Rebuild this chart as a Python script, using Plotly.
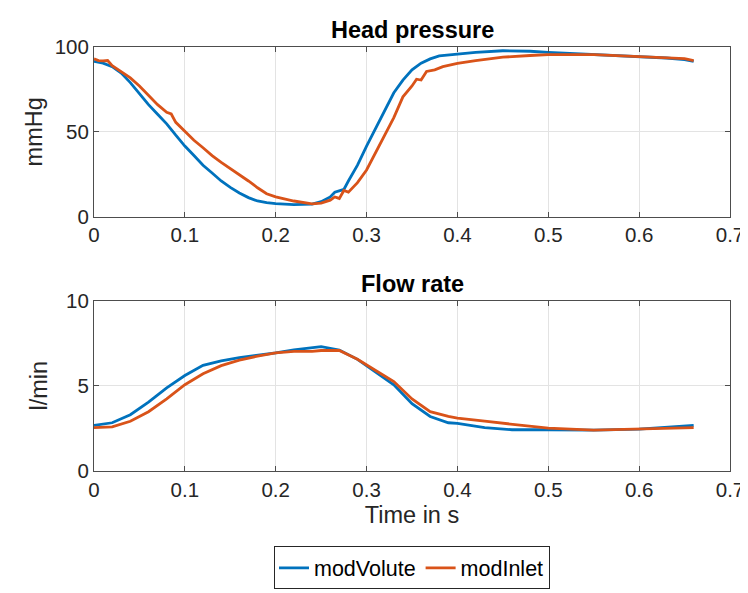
import plotly.graph_objects as go

BLUE = "#0072BD"
RED = "#D95319"

# Head pressure (mmHg)
t_p_vol = [0, 0.01, 0.02, 0.03, 0.04, 0.05, 0.06, 0.07, 0.08, 0.09, 0.10, 0.11, 0.12, 0.13, 0.14,
           0.15, 0.16, 0.17, 0.18, 0.19, 0.20, 0.22, 0.24, 0.25, 0.26, 0.265, 0.27, 0.275, 0.28,
           0.29, 0.30, 0.31, 0.32, 0.33, 0.34, 0.35, 0.36, 0.37, 0.38, 0.40, 0.42, 0.45, 0.48,
           0.50, 0.55, 0.60, 0.63, 0.65, 0.66]
p_vol = [91.5, 90.5, 88.4, 84.6, 79.0, 72.5, 66.0, 60.3, 54.7, 48.0, 41.6, 36.0, 30.3, 25.7, 21.0,
         17.2, 13.9, 11.2, 9.2, 8.2, 7.6, 7.1, 7.3, 8.8, 11.6, 14.4, 15.0, 16.0, 21.0,
         30.3, 41.6, 52.0, 63.0, 73.0, 80.5, 86.5, 90.5, 93.0, 94.8, 96.0, 96.8, 97.8, 97.5,
         96.8, 95.5, 94.4, 93.5, 92.5, 91.5]

t_p_in = [0, 0.005, 0.01, 0.015, 0.02, 0.03, 0.04, 0.05, 0.06, 0.07, 0.08, 0.085, 0.09, 0.10, 0.11,
          0.12, 0.13, 0.14, 0.15, 0.16, 0.17, 0.18, 0.19, 0.20, 0.22, 0.24, 0.25, 0.26, 0.265,
          0.27, 0.275, 0.28, 0.29, 0.30, 0.31, 0.32, 0.33, 0.34, 0.35, 0.355, 0.36, 0.366, 0.375,
          0.384, 0.40, 0.42, 0.45, 0.48, 0.50, 0.55, 0.60, 0.62, 0.64, 0.65, 0.66]
p_in = [93.0, 92.0, 91.8, 92.0, 89.0, 85.6, 81.8, 77.0, 71.5, 66.0, 61.5, 60.5, 55.6, 50.0, 45.0,
        40.6, 36.0, 32.0, 28.5, 24.7, 21.0, 17.0, 13.5, 11.6, 9.2, 7.5, 8.0, 9.7, 11.6,
        10.7, 15.4, 14.4, 20.0, 27.5, 37.8, 48.0, 58.4, 70.6, 77.0, 81.0, 80.5, 85.6, 86.5,
        88.4, 90.3, 92.0, 94.0, 95.0, 95.5, 95.5, 94.4, 94.0, 93.5, 93.2, 92.0]

# Flow rate (l/min)
t_q = [0, 0.02, 0.04, 0.06, 0.08, 0.10, 0.12, 0.14, 0.16, 0.18, 0.20, 0.22, 0.24, 0.25, 0.27,
       0.29, 0.31, 0.33, 0.35, 0.37, 0.39, 0.40, 0.43, 0.46, 0.50, 0.55, 0.60, 0.66]
q_vol = [2.68, 2.83, 3.30, 4.04, 4.88, 5.60, 6.20, 6.46, 6.65, 6.78, 6.93, 7.10, 7.26, 7.30, 7.10,
         6.55, 5.80, 5.06, 3.95, 3.20, 2.83, 2.79, 2.55, 2.42, 2.42, 2.40, 2.46, 2.68]
q_in = [2.55, 2.59, 2.92, 3.48, 4.23, 5.06, 5.70, 6.18, 6.50, 6.74, 6.93, 7.02, 7.02, 7.07, 7.07,
        6.55, 5.90, 5.25, 4.23, 3.48, 3.20, 3.10, 2.92, 2.74, 2.51, 2.40, 2.46, 2.55]

x_ticks = [0, 0.1, 0.2, 0.3, 0.4, 0.5, 0.6, 0.7]
x_labels = ["0", "0.1", "0.2", "0.3", "0.4", "0.5", "0.6", "0.7"]

FONT = "Liberation Sans, Arial, sans-serif"
AX = "#4d4d4d"
GRID = "#e3e3e3"
LW = 2.8

fig = go.Figure()
fig.add_trace(go.Scatter(x=t_p_vol, y=p_vol, mode="lines", name="modVolute", legendgroup="v",
                         line=dict(color=BLUE, width=LW), xaxis="x", yaxis="y"))
fig.add_trace(go.Scatter(x=t_p_in, y=p_in, mode="lines", name="modInlet", legendgroup="i",
                         line=dict(color=RED, width=LW), xaxis="x", yaxis="y"))
fig.add_trace(go.Scatter(x=t_q, y=q_vol, mode="lines", name="modVolute", legendgroup="v", showlegend=False,
                         line=dict(color=BLUE, width=LW), xaxis="x2", yaxis="y2"))
fig.add_trace(go.Scatter(x=t_q, y=q_in, mode="lines", name="modInlet", legendgroup="i", showlegend=False,
                         line=dict(color=RED, width=LW), xaxis="x2", yaxis="y2"))

axcommon = dict(showline=True, linecolor=AX, linewidth=1, mirror="ticks", ticks="inside",
                ticklen=5, tickcolor=AX, showgrid=True, gridcolor=GRID, gridwidth=1,
                zeroline=False, tickfont=dict(size=20.5, color="#262626", family=FONT))

fig.update_layout(
    width=748, height=593,
    margin=dict(l=86, r=17, t=39, b=109),
    paper_bgcolor="white", plot_bgcolor="white",
    font=dict(family=FONT, color="#262626"),
    xaxis=dict(domain=[0, 1], range=[0, 0.7], tickvals=x_ticks, ticktext=x_labels,
               anchor="y", **axcommon),
    yaxis=dict(domain=[0.6, 1.0], range=[0, 100], tickvals=[0, 50, 100], anchor="x",
               title=dict(text="mmHg", font=dict(size=23.5), standoff=5), **axcommon),
    xaxis2=dict(domain=[0, 1], range=[0, 0.7], tickvals=x_ticks, ticktext=x_labels,
                anchor="y2", title=dict(text="Time in s", font=dict(size=23.5), standoff=6), **axcommon),
    yaxis2=dict(domain=[0, 0.402], range=[0, 10], tickvals=[0, 5, 10], anchor="x2",
                title=dict(text="l/min", font=dict(size=23.5), standoff=11), **axcommon),
    legend=dict(orientation="h", x=0.5, xanchor="center", y=-0.178, yanchor="top",
                bordercolor="#262626", borderwidth=1, bgcolor="white",
                font=dict(size=21.5, color="#000000", family=FONT), itemwidth=30,
                tracegroupgap=0),
    annotations=[
        dict(text="<b>Head pressure</b>", x=0.5, xref="paper", y=1.0, yref="paper",
             xanchor="center", yanchor="bottom", yshift=2, showarrow=False,
             font=dict(size=23.5, color="#000000", family=FONT)),
        dict(text="<b>Flow rate</b>", x=0.5, xref="paper", y=0.402, yref="paper",
             xanchor="center", yanchor="bottom", yshift=2, showarrow=False,
             font=dict(size=23.5, color="#000000", family=FONT)),
    ],
)

fig.write_html("out.html")
